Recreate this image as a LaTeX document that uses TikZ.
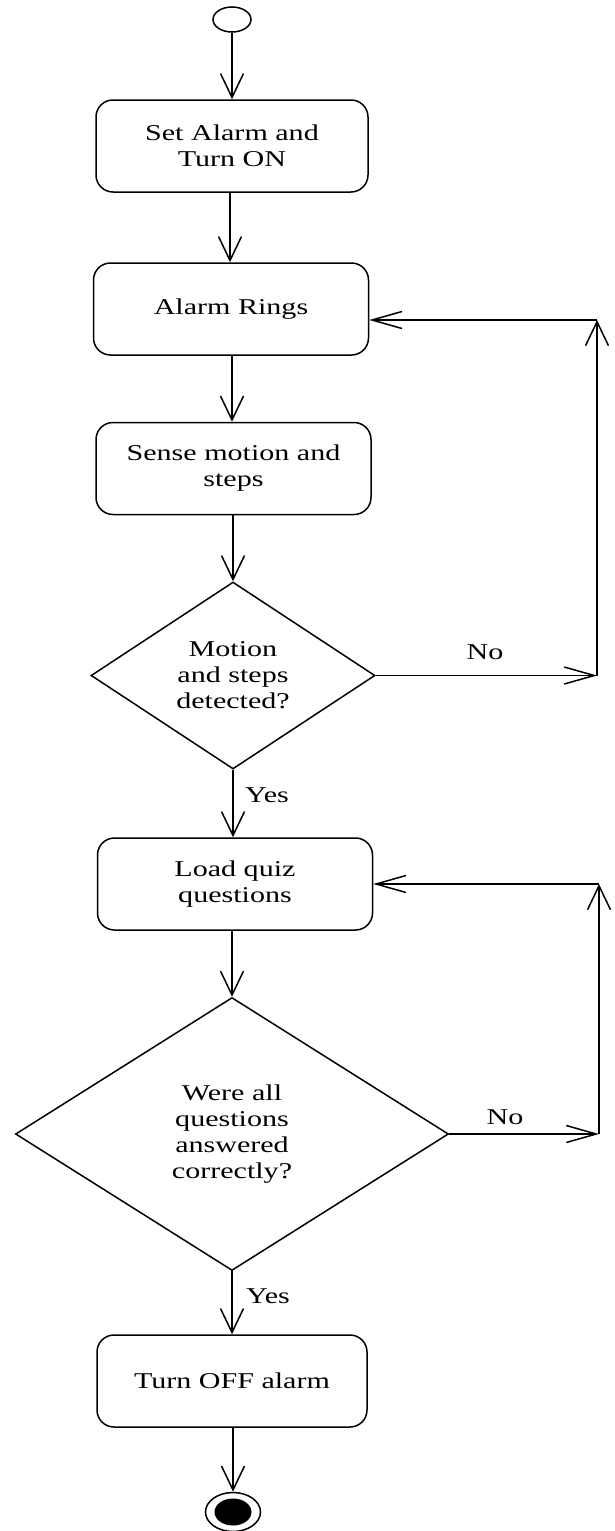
\documentclass[tikz,border=0pt]{standalone}
\usepackage{fontspec}
\setmainfont{Liberation Serif}[FakeStretch=1.33]
\usetikzlibrary{shapes.geometric,arrows.meta}
\begin{document}
\begin{tikzpicture}[x=1pt,y=-1pt,line width=1.5pt,
  txt/.style={font=\fontsize{22.6pt}{26pt}\selectfont},
  actbox/.style={txt,draw,rounded corners=17pt,minimum width=#1,minimum height=92pt,inner sep=0pt,align=center},
  decision/.style={txt,draw,diamond,inner sep=0pt,align=center},
  varr/.style={-{Straight Barb[length=24pt,width=23pt]}},
  harr/.style={-{Straight Barb[length=30pt,width=17pt]}},
  lbl/.style={txt,inner sep=0pt}]
\fill[white] (0,0) rectangle (614,1531);
\useasboundingbox (0,0) rectangle (614,1531);

\node[draw,ellipse,minimum width=38pt,minimum height=25pt,inner sep=0pt] (start) at (232,19.5) {};
\node[actbox=272pt] (b1) at (232,146) {Set Alarm and\\Turn ON};
\node[actbox=275pt] (b2) at (231,309) {Alarm Rings};
\node[actbox=275pt] (b3) at (233.5,468.5) {Sense motion and\\steps};
\node[decision,minimum width=284pt,minimum height=187pt] (d1) at (233,675.5) {Motion\\and steps\\detected?};
\node[actbox=275pt] (b4) at (235,884) {Load quiz\\questions};
\node[decision,minimum width=433pt,minimum height=273pt] (d2) at (232,1134) {Were all\\questions\\answered\\correctly?};
\node[actbox=270pt] (b5) at (232,1381) {Turn OFF alarm};
\node[draw,ellipse,minimum width=55pt,minimum height=39pt,inner sep=0pt] (end) at (233,1512) {};
\node[fill=black,ellipse,minimum width=37pt,minimum height=27pt,inner sep=0pt] (endin) at (233,1512) {};

\coordinate (c1) at (597,675.5);
\coordinate (c2) at (597,320);
\coordinate (c3) at (599,1134);
\coordinate (c4) at (599,884);

\draw[varr] (start.south) -- (start.south |- b1.north);
\draw[varr] (b1.south -| 230,0) -- (b2.north -| 230,0);
\draw[varr] (b2.south -| 232,0) -- (b3.north -| 232,0);
\draw[varr] (b3.south -| d1.north) -- (d1.north);
\draw[varr] (d1.south) -- (d1.south |- b4.north);
\draw[varr] (b4.south -| d2.north) -- (d2.north);
\draw[varr] (d2.south) -- (d2.south |- b5.north);
\draw[varr] (b5.south -| end.north) -- (end.north);

\draw[harr] (d1.east) -- (c1);
\draw[varr] (c1) -- (c2);
\draw[harr] (c2) -- (c2 -| b2.east);
\draw[harr] (d2.east) -- (c3);
\draw[varr] (c3) -- (c4);
\draw[harr] (c4) -- (c4 -| b4.east);

\node[lbl] (no1) at (485,652) {No};
\node[lbl] (yes1) at (267,795) {Yes};
\node[lbl] (no2) at (505,1117) {No};
\node[lbl] (yes2) at (268,1296) {Yes};
\end{tikzpicture}
\end{document}
